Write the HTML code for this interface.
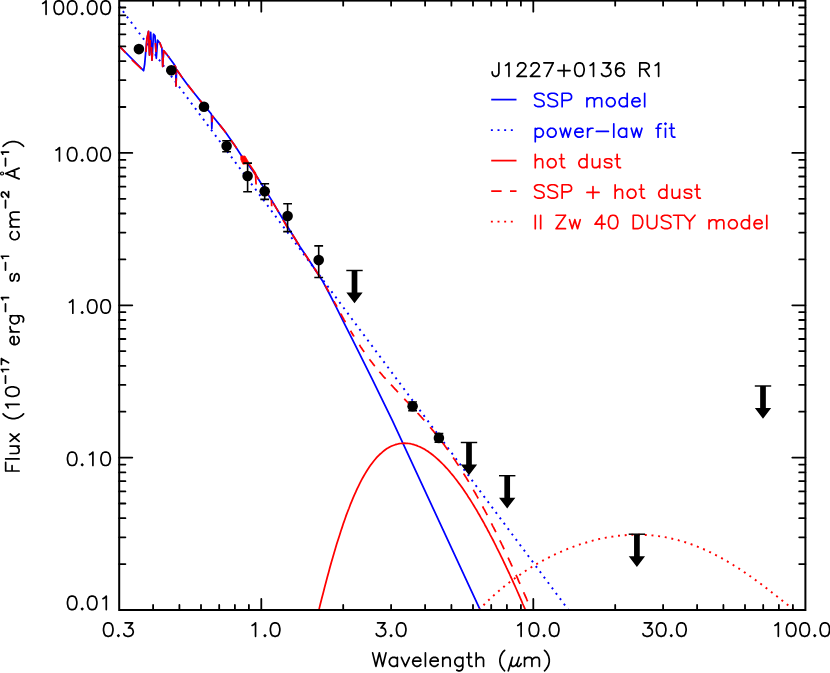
<!DOCTYPE html>
<html><head><meta charset="utf-8"><title>SED</title>
<style>html,body{margin:0;padding:0;background:#fff;font-family:"Liberation Sans",sans-serif}svg{display:block}</style>
</head><body>
<svg width="830" height="673" viewBox="0 0 830 673">
<rect width="830" height="673" fill="#fff"/>
<defs><clipPath id="pc"><rect x="119.2" y="0.6" width="686.2" height="610.0"/></clipPath></defs>
<g clip-path="url(#pc)">
<polyline points="119.2,46.0 143.6,70.7 144.7,64.0 145.7,52.0 146.9,39.0 148.5,31.4 149.5,55.0 150.7,32.3 152.0,60.2 153.5,34.2 155.0,35.8 156.3,58.3 157.6,40.2 160.0,43.3 161.9,48.3 162.7,66.4 163.6,50.6 168.2,56.2 173.7,63.7 175.7,67.2 176.0,86.0 176.6,69.4 182.0,77.2 187.3,84.4 193.9,92.8 200.4,100.9 210.5,113.0 211.5,114.5 211.8,128.5 212.3,115.8 219.5,124.6 225.0,131.5 234.8,145.6 241.3,155.4 248.5,165.0 255.2,174.0 261.8,184.5 270.8,198.9 278.9,212.5 290.4,231.3 300.0,246.7 311.0,263.2 322.2,280.4 329.0,293.0 336.1,306.9 344.5,323.8 353.5,341.7 372.3,379.4 392.3,420.4 480.3,610.1 560.0,782.0" fill="none" stroke="#0000ff" stroke-width="1.75" stroke-linejoin="round"/>
<line x1="119.4" y1="6.44" x2="568.3" y2="609.7" stroke="#0000ff" stroke-width="1.95" stroke-dasharray="1.95 4.765" stroke-dashoffset="0.82"/>
<polyline points="315.0,625.6 316.4,620.1 317.7,614.5 319.1,609.1 320.4,603.7 321.8,598.3 323.2,593.0 324.5,587.7 325.9,582.6 327.2,577.5 328.6,572.4 329.9,567.5 331.3,562.6 332.7,557.8 334.0,553.2 335.4,548.6 336.7,544.1 338.1,539.7 339.5,535.4 340.8,531.2 342.2,527.1 343.5,523.1 344.9,519.2 346.2,515.4 347.6,511.7 349.0,508.2 350.3,504.7 351.7,501.3 353.0,498.1 354.4,494.9 355.8,491.9 357.1,488.9 358.5,486.1 359.8,483.4 361.2,480.7 362.5,478.2 363.9,475.8 365.3,473.4 366.6,471.2 368.0,469.1 369.3,467.0 370.7,465.1 372.1,463.2 373.4,461.5 374.8,459.8 376.1,458.2 377.5,456.7 378.8,455.3 380.2,454.0 381.6,452.8 382.9,451.6 384.3,450.5 385.6,449.5 387.0,448.6 388.4,447.8 389.7,447.0 391.1,446.3 392.4,445.7 393.8,445.2 395.2,444.7 396.5,444.3 397.9,444.0 399.2,443.7 400.6,443.5 401.9,443.3 403.3,443.3 404.7,443.2 406.0,443.3 407.4,443.4 408.7,443.5 410.1,443.7 411.5,444.0 412.8,444.3 414.2,444.7 415.5,445.2 416.9,445.6 418.2,446.2 419.6,446.8 421.0,447.4 422.3,448.1 423.7,448.8 425.0,449.6 426.4,450.5 427.8,451.3 429.1,452.3 430.5,453.2 431.8,454.2 433.2,455.3 434.5,456.4 435.9,457.6 437.3,458.8 438.6,460.0 440.0,461.3 441.3,462.6 442.7,464.0 444.1,465.4 445.4,466.8 446.8,468.3 448.1,469.8 449.5,471.4 450.8,473.0 452.2,474.6 453.6,476.3 454.9,478.0 456.3,479.7 457.6,481.5 459.0,483.4 460.4,485.2 461.7,487.1 463.1,489.1 464.4,491.0 465.8,493.1 467.2,495.1 468.5,497.2 469.9,499.3 471.2,501.4 472.6,503.6 473.9,505.8 475.3,508.1 476.7,510.3 478.0,512.7 479.4,515.0 480.7,517.4 482.1,519.8 483.5,522.2 484.8,524.7 486.2,527.2 487.5,529.7 488.9,532.2 490.2,534.8 491.6,537.4 493.0,540.0 494.3,542.7 495.7,545.4 497.0,548.1 498.4,550.8 499.8,553.6 501.1,556.3 502.5,559.1 503.8,562.0 505.2,564.8 506.5,567.7 507.9,570.6 509.3,573.5 510.6,576.5 512.0,579.4 513.3,582.4 514.7,585.4 516.1,588.5 517.4,591.5 518.8,594.6 520.1,597.7 521.5,600.8 522.8,604.0 524.2,607.1 525.6,610.3 526.9,613.5 528.3,616.8 529.6,620.0 531.0,623.3" fill="none" stroke="#ff0000" stroke-width="1.75" stroke-linejoin="round"/>
<polyline points="119.2,46.0 125.7,52.8" fill="none" stroke="#ff0000" stroke-width="1.75" stroke-linejoin="round"/>
<polyline points="131.9,59.9 141.4,68.9" fill="none" stroke="#ff0000" stroke-width="1.75" stroke-linejoin="round"/>
<polyline points="146.0,52.0 146.9,39.0 148.5,31.4 149.5,55.0 150.2,40.0" fill="none" stroke="#ff0000" stroke-width="1.75" stroke-linejoin="round"/>
<polyline points="151.5,47.0 152.0,60.2 152.4,53.0" fill="none" stroke="#ff0000" stroke-width="1.75" stroke-linejoin="round"/>
<polyline points="155.4,43.0 156.0,52.0" fill="none" stroke="#ff0000" stroke-width="1.75" stroke-linejoin="round"/>
<polyline points="159.5,42.6 160.0,43.3 161.9,48.3" fill="none" stroke="#ff0000" stroke-width="1.75" stroke-linejoin="round"/>
<polyline points="162.6,58.0 162.7,66.4 163.6,50.6 167.1,54.8" fill="none" stroke="#ff0000" stroke-width="1.75" stroke-linejoin="round"/>
<polyline points="212.3,115.8 212.1,122.3" fill="none" stroke="#ff0000" stroke-width="1.75" stroke-linejoin="round"/>
<polyline points="168.2,56.2 173.7,63.7 175.7,67.2 176.0,86.0 176.6,69.4 182.0,77.2 187.3,84.4 193.9,92.8 200.4,100.9 210.5,113.0 211.5,114.5" fill="none" stroke="#ff0000" stroke-width="1.75" stroke-dasharray="9.90 9.15" stroke-dashoffset="8.11" stroke-linejoin="round"/>
<polyline points="212.3,115.8 219.5,124.6 225.0,131.5 234.8,145.6 241.3,155.4 248.5,165.0 255.2,174.0 261.8,184.5 270.8,198.9 278.9,212.5 289.5,231.3" fill="none" stroke="#ff0000" stroke-width="1.75" stroke-dasharray="9.90 9.15" stroke-dashoffset="7.38" stroke-linejoin="round"/>
<polyline points="292.4,234.5 299.1,245.3" fill="none" stroke="#ff0000" stroke-width="1.75"/>
<polyline points="304.3,253.2 309.5,260.9" fill="none" stroke="#ff0000" stroke-width="1.75"/>
<polyline points="314.0,267.8 319.9,276.9" fill="none" stroke="#ff0000" stroke-width="1.75"/>
<polyline points="325.1,285.4 328.8,291.7" fill="none" stroke="#ff0000" stroke-width="1.75"/>
<polyline points="334.0,301.3 334.3,301.8 334.8,302.8 335.3,303.8 335.9,304.7 336.4,305.7 336.9,306.7 337.0,306.8" fill="none" stroke="#ff0000" stroke-width="1.75"/>
<polyline points="340.5,313.3 340.6,313.5 341.2,314.5 341.7,315.5 342.2,316.4 342.7,317.4 343.3,318.3 343.8,319.3 344.3,320.2 344.9,321.1 345.4,322.1 345.5,322.2" fill="none" stroke="#ff0000" stroke-width="1.75"/>
<polyline points="350.5,330.7 350.7,331.0 351.2,331.9 351.7,332.8 352.3,333.7 352.8,334.5 353.3,335.4 353.9,336.2 354.0,336.5" fill="none" stroke="#ff0000" stroke-width="1.75"/>
<polyline points="359.4,344.9 359.7,345.3 360.2,346.1 360.7,346.9 361.3,347.7 361.8,348.5 362.3,349.3 362.8,350.0 363.4,350.8 363.9,351.6 364.1,351.9" fill="none" stroke="#ff0000" stroke-width="1.75"/>
<polyline points="369.5,359.3 369.7,359.6 370.2,360.3 370.8,361.0 371.3,361.6 371.8,362.3 372.4,363.0 372.9,363.7 373.4,364.4 373.9,365.0 374.5,365.7 374.8,366.1" fill="none" stroke="#ff0000" stroke-width="1.75"/>
<polyline points="379.4,371.7 379.8,372.2 380.3,372.8 380.8,373.4 381.4,374.0 381.9,374.6 382.4,375.3 382.9,375.9 383.5,376.5 384.0,377.1 384.5,377.6 385.1,378.2 385.6,378.8 385.6,378.8" fill="none" stroke="#ff0000" stroke-width="1.75"/>
<polyline points="391.0,384.7 391.4,385.1 391.9,385.6 392.5,386.2 393.0,386.8 393.5,387.4 394.0,387.9 394.6,388.5 395.1,389.1 395.6,389.7 396.2,390.2 396.7,390.8 397.2,391.4 397.7,391.9 398.0,392.2" fill="none" stroke="#ff0000" stroke-width="1.75"/>
<polyline points="404.2,398.8 404.6,399.2 405.2,399.8 405.7,400.3 406.2,400.9 406.7,401.4 407.3,402.0 407.8,402.5 408.3,403.1 408.9,403.7 409.4,404.2 409.5,404.3" fill="none" stroke="#ff0000" stroke-width="1.75"/>
<polyline points="417.6,413.0 417.8,413.3 418.4,413.8 418.9,414.4 419.4,415.0 420.0,415.6 420.5,416.2 421.0,416.7 421.5,417.3 422.1,417.9 422.6,418.5 423.1,419.1 423.7,419.7 424.2,420.3 424.7,420.9 425.2,421.5 425.8,422.1 426.3,422.7 426.8,423.3 427.4,423.9 427.9,424.5 428.4,425.2 428.9,425.8 429.5,426.4 430.0,427.0 430.5,427.7 431.1,428.3 431.6,428.9 432.1,429.6 432.6,430.2 433.2,430.8 433.7,431.5 434.2,432.1 434.8,432.8 435.3,433.4 435.8,434.1 436.4,434.8 436.9,435.4 437.4,436.1 437.9,436.8 438.5,437.4 439.0,438.1 439.5,438.8 440.1,439.5 440.6,440.2 441.1,440.8 441.6,441.5 442.2,442.2 442.7,442.9 443.2,443.6 443.8,444.3 444.3,445.1 444.8,445.8 445.3,446.5 445.9,447.2 446.4,447.9 446.9,448.7 447.5,449.4 448.0,450.1 448.5,450.9 449.0,451.6 449.6,452.4 450.1,453.1 450.6,453.9 451.2,454.6 451.7,455.4 452.2,456.1 452.7,456.9 453.3,457.7 453.8,458.5 454.3,459.2 454.9,460.0 455.4,460.8 455.9,461.6 456.4,462.4 457.0,463.2 457.5,464.0 458.0,464.8 458.6,465.6 459.1,466.4 459.6,467.2 460.1,468.1 460.7,468.9 461.2,469.7 461.7,470.5 462.3,471.4 462.8,472.2 463.3,473.1 463.8,473.9 464.4,474.8 464.9,475.6 465.4,476.5 466.0,477.3 466.5,478.2 467.0,479.1 467.6,480.0 468.1,480.8 468.6,481.7 469.1,482.6 469.7,483.5 470.2,484.4 470.7,485.3 471.3,486.2 471.8,487.1 472.3,488.0 472.8,488.9 473.4,489.8 473.9,490.8 474.4,491.7 475.0,492.6 475.5,493.5 476.0,494.5 476.5,495.4 477.1,496.4 477.6,497.3 478.1,498.3 478.7,499.2 479.2,500.2 479.7,501.1 480.2,502.1 480.8,503.1 481.3,504.0 481.8,505.0 482.4,506.0 482.9,507.0 483.4,508.0 483.9,508.9 484.5,509.9 485.0,510.9 485.5,511.9 486.1,512.9 486.6,513.9 487.1,515.0 487.6,516.0 488.2,517.0 488.7,518.0 489.2,519.0 489.8,520.1 490.3,521.1 490.8,522.1 491.3,523.2 491.9,524.2 492.4,525.3 492.9,526.3 493.5,527.4 494.0,528.4 494.5,529.5 495.1,530.5 495.6,531.6 496.1,532.7 496.6,533.7 497.2,534.8 497.7,535.9 498.2,537.0 498.8,538.0 499.3,539.1 499.8,540.2 500.3,541.3 500.9,542.4 501.4,543.5 501.9,544.6 502.5,545.7 503.0,546.8 503.5,547.9 504.0,549.0 504.6,550.1 505.1,551.3 505.6,552.4 506.2,553.5 506.7,554.6 507.2,555.8 507.7,556.9 508.3,558.0 508.8,559.2 509.3,560.3 509.9,561.4 510.4,562.6 510.9,563.7 511.4,564.9 512.0,566.0 512.5,567.2 513.0,568.4 513.6,569.5 514.1,570.7 514.6,571.9 515.1,573.0 515.7,574.2 516.2,575.4 516.7,576.5 517.3,577.7 517.8,578.9 518.3,580.1 518.8,581.3 519.4,582.5 519.9,583.7 520.4,584.9 521.0,586.1 521.5,587.3 522.0,588.5 522.5,589.7 523.1,590.9 523.6,592.1 524.1,593.3 524.7,594.6 525.2,595.8 525.7,597.0 526.3,598.2 526.8,599.5 527.3,600.7 527.8,602.0 528.4,603.2 528.9,604.4 529.4,605.7 530.0,606.9 530.5,714.2 531.0,715.3 531.5,716.3 532.1,717.4 532.6,718.5 533.1,719.5 533.7,720.6 534.2,721.7 534.7,722.7 535.2,723.8 535.8,724.9 536.3,725.9 536.8,727.0 537.4,728.0 537.9,729.1 538.4,730.1 538.9,731.2 539.5,732.2 540.0,733.3" fill="none" stroke="#ff0000" stroke-width="1.75" stroke-dasharray="9.90 9.15" stroke-dashoffset="0.00" stroke-linejoin="round"/>
<path d="M240.8,156.2 L245,156.0 L248.6,162.2 L248.6,163.7 L242.9,164.2 L240.8,159.6 Z" fill="#ff0000" stroke="#ff0000" stroke-width="0.8" stroke-linejoin="round"/>
<path d="M248.6,163.2 L255.4,173.2 L256.1,184.5 M271.4,200 L271.7,206.3" fill="none" stroke="#ff0000" stroke-width="1.75" stroke-linejoin="round"/>
<polyline points="479.5,609.3 481.1,607.7 482.7,606.1 484.2,604.5 485.8,602.9 487.4,601.3 489.0,599.8 490.6,598.3 492.2,596.9 493.7,595.4 495.3,594.0 496.9,592.6 498.5,591.2 500.1,589.9 501.7,588.6 503.2,587.2 504.8,586.0 506.4,584.7 508.0,583.4 509.6,582.2 511.2,581.0 512.7,579.8 514.3,578.7 515.9,577.5 517.5,576.4 519.1,575.3 520.7,574.2 522.2,573.1 523.8,572.0 525.4,571.0 527.0,570.0 528.6,569.0 530.2,568.0 531.7,567.0 533.3,566.0 534.9,565.1 536.5,564.2 538.1,563.2 539.7,562.4 541.2,561.5 542.8,560.6 544.4,559.8 546.0,558.9 547.6,558.1 549.1,557.3 550.7,556.5 552.3,555.7 553.9,555.0 555.5,554.2 557.1,553.5 558.6,552.8 560.2,552.1 561.8,551.4 563.4,550.7 565.0,550.0 566.6,549.4 568.1,548.7 569.7,548.1 571.3,547.5 572.9,546.9 574.5,546.3 576.1,545.8 577.6,545.2 579.2,544.7 580.8,544.1 582.4,543.6 584.0,543.1 585.6,542.7 587.1,542.2 588.7,541.7 590.3,541.3 591.9,540.9 593.5,540.4 595.1,540.0 596.6,539.7 598.2,539.3 599.8,538.9 601.4,538.6 603.0,538.3 604.6,537.9 606.1,537.6 607.7,537.3 609.3,537.1 610.9,536.8 612.5,536.6 614.0,536.3 615.6,536.1 617.2,535.9 618.8,535.7 620.4,535.6 622.0,535.4 623.5,535.3 625.1,535.2 626.7,535.0 628.3,534.9 629.9,534.9 631.5,534.8 633.0,534.8 634.6,534.7 636.2,534.7 637.8,534.7 639.4,534.7 641.0,534.7 642.5,534.8 644.1,534.9 645.7,534.9 647.3,535.0 648.9,535.1 650.5,535.3 652.0,535.4 653.6,535.6 655.2,535.7 656.8,535.9 658.4,536.1 660.0,536.4 661.5,536.6 663.1,536.9 664.7,537.1 666.3,537.4 667.9,537.7 669.4,538.1 671.0,538.4 672.6,538.8 674.2,539.1 675.8,539.5 677.4,539.9 678.9,540.4 680.5,540.8 682.1,541.3 683.7,541.7 685.3,542.2 686.9,542.7 688.4,543.3 690.0,543.8 691.6,544.4 693.2,545.0 694.8,545.5 696.4,546.2 697.9,546.8 699.5,547.4 701.1,548.1 702.7,548.8 704.3,549.5 705.9,550.2 707.4,550.9 709.0,551.7 710.6,552.4 712.2,553.2 713.8,554.0 715.4,554.8 716.9,555.6 718.5,556.4 720.1,557.3 721.7,558.2 723.3,559.1 724.9,560.0 726.4,560.9 728.0,561.8 729.6,562.7 731.2,563.7 732.8,564.7 734.3,565.7 735.9,566.7 737.5,567.7 739.1,568.7 740.7,569.7 742.3,570.8 743.8,571.9 745.4,572.9 747.0,574.0 748.6,575.1 750.2,576.2 751.8,577.4 753.3,578.5 754.9,579.6 756.5,580.8 758.1,581.9 759.7,583.1 761.3,584.3 762.8,585.5 764.4,586.7 766.0,587.9 767.6,589.1 769.2,590.3 770.8,591.5 772.3,592.8 773.9,594.0 775.5,595.2 777.1,596.5 778.7,597.7 780.3,599.0 781.8,600.2 783.4,601.5 785.0,602.8 786.6,604.0 788.2,605.3 789.8,606.5 791.3,607.8 792.9,609.1 794.5,610.3" fill="none" stroke="#ff0000" stroke-width="1.95" stroke-dasharray="1.95 4.755" stroke-dashoffset="1.0"/>
</g>
<circle cx="138.9" cy="49.1" r="5.3" fill="#000"/>
<circle cx="171.3" cy="70.2" r="5.3" fill="#000"/>
<circle cx="204.0" cy="106.7" r="5.3" fill="#000"/>
<path d="M226.6,140.8 V151.7 M222.2,140.8 h8.8 M222.2,151.7 h8.8" stroke="#000" stroke-width="1.60" fill="none"/>
<circle cx="226.6" cy="146.0" r="5.3" fill="#000"/>
<path d="M247.6,163.1 V191.7 M243.2,163.1 h8.8 M243.2,191.7 h8.8" stroke="#000" stroke-width="1.60" fill="none"/>
<circle cx="247.6" cy="176.0" r="5.3" fill="#000"/>
<path d="M264.7,183.8 V199.4 M260.3,183.8 h8.8 M260.3,199.4 h8.8" stroke="#000" stroke-width="1.60" fill="none"/>
<circle cx="264.7" cy="191.2" r="5.3" fill="#000"/>
<path d="M287.6,203.8 V231.6 M283.2,203.8 h8.8 M283.2,231.6 h8.8" stroke="#000" stroke-width="1.60" fill="none"/>
<circle cx="287.6" cy="216.0" r="5.3" fill="#000"/>
<path d="M318.7,245.9 V277.5 M314.3,245.9 h8.8 M314.3,277.5 h8.8" stroke="#000" stroke-width="1.60" fill="none"/>
<circle cx="318.7" cy="260.1" r="5.3" fill="#000"/>
<path d="M412.6,401.9 V410.7 M408.2,401.9 h8.8 M408.2,410.7 h8.8" stroke="#000" stroke-width="1.35" fill="none"/>
<circle cx="412.6" cy="406.3" r="5.3" fill="#000"/>
<path d="M438.9,433.4 V442.2 M434.5,433.4 h8.8 M434.5,442.2 h8.8" stroke="#000" stroke-width="1.35" fill="none"/>
<circle cx="438.9" cy="437.9" r="5.3" fill="#000"/>
<path d="M346.3,270.5 h16.4" stroke="#000" stroke-width="1.45"/>
<path d="M351.65,270.5 h5.7 v22.1 h5.3 l-8.15,10.6 l-8.15,-10.6 h5.3 z" fill="#000"/>
<path d="M460.8,442.5 h16.4" stroke="#000" stroke-width="1.45"/>
<path d="M466.15,442.5 h5.7 v22.1 h5.3 l-8.15,10.6 l-8.15,-10.6 h5.3 z" fill="#000"/>
<path d="M499.0,475.7 h16.4" stroke="#000" stroke-width="1.45"/>
<path d="M504.35,475.7 h5.7 v22.1 h5.3 l-8.15,10.6 l-8.15,-10.6 h5.3 z" fill="#000"/>
<path d="M628.7,534.2 h16.4" stroke="#000" stroke-width="1.45"/>
<path d="M634.05,534.2 h5.7 v22.1 h5.3 l-8.15,10.6 l-8.15,-10.6 h5.3 z" fill="#000"/>
<path d="M754.8,386.0 h16.4" stroke="#000" stroke-width="1.45"/>
<path d="M760.15,386.0 h5.7 v22.1 h5.3 l-8.15,10.6 l-8.15,-10.6 h5.3 z" fill="#000"/>
<rect x="119.2" y="0.6" width="686.2" height="609.4" fill="none" stroke="#000" stroke-width="2"/>
<path d="M153.1,610.0 v-5.1 M153.1,0.6 v5.1 M179.4,610.0 v-5.1 M179.4,0.6 v5.1 M201.0,610.0 v-5.1 M201.0,0.6 v5.1 M219.2,610.0 v-5.1 M219.2,0.6 v5.1 M234.9,610.0 v-5.1 M234.9,0.6 v5.1 M248.9,610.0 v-5.1 M248.9,0.6 v5.1 M261.3,610.0 v-11.1 M261.3,0.6 v11.1 M343.2,610.0 v-5.1 M343.2,0.6 v5.1 M391.1,610.0 v-5.1 M391.1,0.6 v5.1 M425.1,610.0 v-5.1 M425.1,0.6 v5.1 M451.4,610.0 v-5.1 M451.4,0.6 v5.1 M473.0,610.0 v-5.1 M473.0,0.6 v5.1 M491.2,610.0 v-5.1 M491.2,0.6 v5.1 M506.9,610.0 v-5.1 M506.9,0.6 v5.1 M520.9,610.0 v-5.1 M520.9,0.6 v5.1 M533.3,610.0 v-11.1 M533.3,0.6 v11.1 M615.2,610.0 v-5.1 M615.2,0.6 v5.1 M663.1,610.0 v-5.1 M663.1,0.6 v5.1 M697.1,610.0 v-5.1 M697.1,0.6 v5.1 M723.4,610.0 v-5.1 M723.4,0.6 v5.1 M745.0,610.0 v-5.1 M745.0,0.6 v5.1 M763.2,610.0 v-5.1 M763.2,0.6 v5.1 M778.9,610.0 v-5.1 M778.9,0.6 v5.1 M792.9,610.0 v-5.1 M792.9,0.6 v5.1 M119.2,564.1 h6.2 M805.4,564.1 h-6.2 M119.2,537.3 h6.2 M805.4,537.3 h-6.2 M119.2,518.2 h6.2 M805.4,518.2 h-6.2 M119.2,503.5 h6.2 M805.4,503.5 h-6.2 M119.2,491.4 h6.2 M805.4,491.4 h-6.2 M119.2,481.2 h6.2 M805.4,481.2 h-6.2 M119.2,472.4 h6.2 M805.4,472.4 h-6.2 M119.2,464.6 h6.2 M805.4,464.6 h-6.2 M119.2,457.6 h13.1 M805.4,457.6 h-13.1 M119.2,411.7 h6.2 M805.4,411.7 h-6.2 M119.2,384.9 h6.2 M805.4,384.9 h-6.2 M119.2,365.9 h6.2 M805.4,365.9 h-6.2 M119.2,351.1 h6.2 M805.4,351.1 h-6.2 M119.2,339.0 h6.2 M805.4,339.0 h-6.2 M119.2,328.8 h6.2 M805.4,328.8 h-6.2 M119.2,320.0 h6.2 M805.4,320.0 h-6.2 M119.2,312.2 h6.2 M805.4,312.2 h-6.2 M119.2,305.3 h13.1 M805.4,305.3 h-13.1 M119.2,259.4 h6.2 M805.4,259.4 h-6.2 M119.2,232.6 h6.2 M805.4,232.6 h-6.2 M119.2,213.5 h6.2 M805.4,213.5 h-6.2 M119.2,198.8 h6.2 M805.4,198.8 h-6.2 M119.2,186.7 h6.2 M805.4,186.7 h-6.2 M119.2,176.5 h6.2 M805.4,176.5 h-6.2 M119.2,167.7 h6.2 M805.4,167.7 h-6.2 M119.2,159.9 h6.2 M805.4,159.9 h-6.2 M119.2,152.9 h13.1 M805.4,152.9 h-13.1 M119.2,107.0 h6.2 M805.4,107.0 h-6.2 M119.2,80.2 h6.2 M805.4,80.2 h-6.2 M119.2,61.2 h6.2 M805.4,61.2 h-6.2 M119.2,46.4 h6.2 M805.4,46.4 h-6.2 M119.2,34.3 h6.2 M805.4,34.3 h-6.2 M119.2,24.1 h6.2 M805.4,24.1 h-6.2 M119.2,15.3 h6.2 M805.4,15.3 h-6.2 M119.2,7.5 h6.2 M805.4,7.5 h-6.2" stroke="#000" stroke-width="1.8" fill="none" stroke-linecap="round"/>
<path d="M107.58,622.86 L105.55,623.50 L104.20,625.42 L103.53,628.62 L103.53,630.54 L104.20,633.74 L105.55,635.66 L107.58,636.30 L108.92,636.30 L110.95,635.66 L112.30,633.74 L112.97,630.54 L112.97,628.62 L112.30,625.42 L110.95,623.50 L108.92,622.86 L107.58,622.86 M118.38,635.02 L117.70,635.66 L118.38,636.30 L119.05,635.66 L118.38,635.02 M125.12,622.86 L132.55,622.86 L128.50,627.98 L130.53,627.98 L131.88,628.62 L132.55,629.26 L133.22,631.18 L133.22,632.46 L132.55,634.38 L131.20,635.66 L129.18,636.30 L127.15,636.30 L125.12,635.66 L124.45,635.02 L123.78,633.74" fill="none" stroke="#000" stroke-width="1.70" stroke-linecap="round" stroke-linejoin="round"/>
<path d="M252.15,625.42 L253.50,624.78 L255.53,622.86 L255.53,636.30 M264.98,635.02 L264.30,635.66 L264.98,636.30 L265.65,635.66 L264.98,635.02 M274.43,622.86 L272.40,623.50 L271.05,625.42 L270.38,628.62 L270.38,630.54 L271.05,633.74 L272.40,635.66 L274.43,636.30 L275.78,636.30 L277.80,635.66 L279.15,633.74 L279.83,630.54 L279.83,628.62 L279.15,625.42 L277.80,623.50 L275.78,622.86 L274.43,622.86" fill="none" stroke="#000" stroke-width="1.70" stroke-linecap="round" stroke-linejoin="round"/>
<path d="M377.57,622.86 L385.00,622.86 L380.95,627.98 L382.97,627.98 L384.32,628.62 L385.00,629.26 L385.68,631.18 L385.68,632.46 L385.00,634.38 L383.65,635.66 L381.62,636.30 L379.60,636.30 L377.57,635.66 L376.90,635.02 L376.22,633.74 M391.07,635.02 L390.40,635.66 L391.07,636.30 L391.75,635.66 L391.07,635.02 M400.52,622.86 L398.50,623.50 L397.15,625.42 L396.47,628.62 L396.47,630.54 L397.15,633.74 L398.50,635.66 L400.52,636.30 L401.88,636.30 L403.90,635.66 L405.25,633.74 L405.93,630.54 L405.93,628.62 L405.25,625.42 L403.90,623.50 L401.88,622.86 L400.52,622.86" fill="none" stroke="#000" stroke-width="1.70" stroke-linecap="round" stroke-linejoin="round"/>
<path d="M517.75,625.42 L519.10,624.78 L521.12,622.86 L521.12,636.30 M533.28,622.86 L531.25,623.50 L529.90,625.42 L529.23,628.62 L529.23,630.54 L529.90,633.74 L531.25,635.66 L533.28,636.30 L534.62,636.30 L536.65,635.66 L538.00,633.74 L538.68,630.54 L538.68,628.62 L538.00,625.42 L536.65,623.50 L534.62,622.86 L533.28,622.86 M544.08,635.02 L543.40,635.66 L544.08,636.30 L544.75,635.66 L544.08,635.02 M553.53,622.86 L551.50,623.50 L550.15,625.42 L549.48,628.62 L549.48,630.54 L550.15,633.74 L551.50,635.66 L553.53,636.30 L554.88,636.30 L556.90,635.66 L558.25,633.74 L558.93,630.54 L558.93,628.62 L558.25,625.42 L556.90,623.50 L554.88,622.86 L553.53,622.86" fill="none" stroke="#000" stroke-width="1.70" stroke-linecap="round" stroke-linejoin="round"/>
<path d="M644.27,622.86 L651.70,622.86 L647.65,627.98 L649.67,627.98 L651.02,628.62 L651.70,629.26 L652.38,631.18 L652.38,632.46 L651.70,634.38 L650.35,635.66 L648.32,636.30 L646.30,636.30 L644.27,635.66 L643.60,635.02 L642.92,633.74 M660.48,622.86 L658.45,623.50 L657.10,625.42 L656.42,628.62 L656.42,630.54 L657.10,633.74 L658.45,635.66 L660.48,636.30 L661.82,636.30 L663.85,635.66 L665.20,633.74 L665.88,630.54 L665.88,628.62 L665.20,625.42 L663.85,623.50 L661.82,622.86 L660.48,622.86 M671.27,635.02 L670.60,635.66 L671.27,636.30 L671.95,635.66 L671.27,635.02 M680.73,622.86 L678.70,623.50 L677.35,625.42 L676.67,628.62 L676.67,630.54 L677.35,633.74 L678.70,635.66 L680.73,636.30 L682.07,636.30 L684.10,635.66 L685.45,633.74 L686.12,630.54 L686.12,628.62 L685.45,625.42 L684.10,623.50 L682.07,622.86 L680.73,622.86" fill="none" stroke="#000" stroke-width="1.70" stroke-linecap="round" stroke-linejoin="round"/>
<path d="M774.95,625.42 L776.30,624.78 L778.32,622.86 L778.32,636.30 M790.48,622.86 L788.45,623.50 L787.10,625.42 L786.42,628.62 L786.42,630.54 L787.10,633.74 L788.45,635.66 L790.48,636.30 L791.82,636.30 L793.85,635.66 L795.20,633.74 L795.88,630.54 L795.88,628.62 L795.20,625.42 L793.85,623.50 L791.82,622.86 L790.48,622.86 M803.98,622.86 L801.95,623.50 L800.60,625.42 L799.92,628.62 L799.92,630.54 L800.60,633.74 L801.95,635.66 L803.98,636.30 L805.32,636.30 L807.35,635.66 L808.70,633.74 L809.38,630.54 L809.38,628.62 L808.70,625.42 L807.35,623.50 L805.32,622.86 L803.98,622.86 M814.77,635.02 L814.10,635.66 L814.77,636.30 L815.45,635.66 L814.77,635.02 M824.23,622.86 L822.20,623.50 L820.85,625.42 L820.17,628.62 L820.17,630.54 L820.85,633.74 L822.20,635.66 L824.23,636.30 L825.57,636.30 L827.60,635.66 L828.95,633.74 L829.62,630.54 L829.62,628.62 L828.95,625.42 L827.60,623.50 L825.57,622.86 L824.23,622.86" fill="none" stroke="#000" stroke-width="1.70" stroke-linecap="round" stroke-linejoin="round"/>
<path d="M42.72,3.42 L44.06,2.78 L46.07,0.86 L46.07,14.30 M58.11,0.86 L56.10,1.50 L54.77,3.42 L54.10,6.62 L54.10,8.54 L54.77,11.74 L56.10,13.66 L58.11,14.30 L59.45,14.30 L61.46,13.66 L62.79,11.74 L63.46,8.54 L63.46,6.62 L62.79,3.42 L61.46,1.50 L59.45,0.86 L58.11,0.86 M71.49,0.86 L69.48,1.50 L68.15,3.42 L67.48,6.62 L67.48,8.54 L68.15,11.74 L69.48,13.66 L71.49,14.30 L72.83,14.30 L74.84,13.66 L76.17,11.74 L76.84,8.54 L76.84,6.62 L76.17,3.42 L74.84,1.50 L72.83,0.86 L71.49,0.86 M82.19,13.02 L81.53,13.66 L82.19,14.30 L82.86,13.66 L82.19,13.02 M91.56,0.86 L89.55,1.50 L88.22,3.42 L87.55,6.62 L87.55,8.54 L88.22,11.74 L89.55,13.66 L91.56,14.30 L92.90,14.30 L94.91,13.66 L96.24,11.74 L96.91,8.54 L96.91,6.62 L96.24,3.42 L94.91,1.50 L92.90,0.86 L91.56,0.86 M104.94,0.86 L102.93,1.50 L101.60,3.42 L100.93,6.62 L100.93,8.54 L101.60,11.74 L102.93,13.66 L104.94,14.30 L106.28,14.30 L108.29,13.66 L109.62,11.74 L110.29,8.54 L110.29,6.62 L109.62,3.42 L108.29,1.50 L106.28,0.86 L104.94,0.86" fill="none" stroke="#000" stroke-width="1.70" stroke-linecap="round" stroke-linejoin="round"/>
<path d="M56.10,150.12 L57.44,149.48 L59.45,147.56 L59.45,161.00 M71.49,147.56 L69.48,148.20 L68.15,150.12 L67.48,153.32 L67.48,155.24 L68.15,158.44 L69.48,160.36 L71.49,161.00 L72.83,161.00 L74.84,160.36 L76.17,158.44 L76.84,155.24 L76.84,153.32 L76.17,150.12 L74.84,148.20 L72.83,147.56 L71.49,147.56 M82.19,159.72 L81.53,160.36 L82.19,161.00 L82.86,160.36 L82.19,159.72 M91.56,147.56 L89.55,148.20 L88.22,150.12 L87.55,153.32 L87.55,155.24 L88.22,158.44 L89.55,160.36 L91.56,161.00 L92.90,161.00 L94.91,160.36 L96.24,158.44 L96.91,155.24 L96.91,153.32 L96.24,150.12 L94.91,148.20 L92.90,147.56 L91.56,147.56 M104.94,147.56 L102.93,148.20 L101.60,150.12 L100.93,153.32 L100.93,155.24 L101.60,158.44 L102.93,160.36 L104.94,161.00 L106.28,161.00 L108.29,160.36 L109.62,158.44 L110.29,155.24 L110.29,153.32 L109.62,150.12 L108.29,148.20 L106.28,147.56 L104.94,147.56" fill="none" stroke="#000" stroke-width="1.70" stroke-linecap="round" stroke-linejoin="round"/>
<path d="M69.48,302.32 L70.82,301.68 L72.83,299.76 L72.83,313.20 M82.19,311.92 L81.53,312.56 L82.19,313.20 L82.86,312.56 L82.19,311.92 M91.56,299.76 L89.55,300.40 L88.22,302.32 L87.55,305.52 L87.55,307.44 L88.22,310.64 L89.55,312.56 L91.56,313.20 L92.90,313.20 L94.91,312.56 L96.24,310.64 L96.91,307.44 L96.91,305.52 L96.24,302.32 L94.91,300.40 L92.90,299.76 L91.56,299.76 M104.94,299.76 L102.93,300.40 L101.60,302.32 L100.93,305.52 L100.93,307.44 L101.60,310.64 L102.93,312.56 L104.94,313.20 L106.28,313.20 L108.29,312.56 L109.62,310.64 L110.29,307.44 L110.29,305.52 L109.62,302.32 L108.29,300.40 L106.28,299.76 L104.94,299.76" fill="none" stroke="#000" stroke-width="1.70" stroke-linecap="round" stroke-linejoin="round"/>
<path d="M71.49,452.06 L69.48,452.70 L68.15,454.62 L67.48,457.82 L67.48,459.74 L68.15,462.94 L69.48,464.86 L71.49,465.50 L72.83,465.50 L74.84,464.86 L76.17,462.94 L76.84,459.74 L76.84,457.82 L76.17,454.62 L74.84,452.70 L72.83,452.06 L71.49,452.06 M82.19,464.22 L81.53,464.86 L82.19,465.50 L82.86,464.86 L82.19,464.22 M89.55,454.62 L90.89,453.98 L92.90,452.06 L92.90,465.50 M104.94,452.06 L102.93,452.70 L101.60,454.62 L100.93,457.82 L100.93,459.74 L101.60,462.94 L102.93,464.86 L104.94,465.50 L106.28,465.50 L108.29,464.86 L109.62,462.94 L110.29,459.74 L110.29,457.82 L109.62,454.62 L108.29,452.70 L106.28,452.06 L104.94,452.06" fill="none" stroke="#000" stroke-width="1.70" stroke-linecap="round" stroke-linejoin="round"/>
<path d="M71.49,596.16 L69.48,596.80 L68.15,598.72 L67.48,601.92 L67.48,603.84 L68.15,607.04 L69.48,608.96 L71.49,609.60 L72.83,609.60 L74.84,608.96 L76.17,607.04 L76.84,603.84 L76.84,601.92 L76.17,598.72 L74.84,596.80 L72.83,596.16 L71.49,596.16 M82.19,608.32 L81.53,608.96 L82.19,609.60 L82.86,608.96 L82.19,608.32 M91.56,596.16 L89.55,596.80 L88.22,598.72 L87.55,601.92 L87.55,603.84 L88.22,607.04 L89.55,608.96 L91.56,609.60 L92.90,609.60 L94.91,608.96 L96.24,607.04 L96.91,603.84 L96.91,601.92 L96.24,598.72 L94.91,596.80 L92.90,596.16 L91.56,596.16 M102.93,598.72 L104.27,598.08 L106.28,596.16 L106.28,609.60" fill="none" stroke="#000" stroke-width="1.70" stroke-linecap="round" stroke-linejoin="round"/>
<path d="M372.64,652.86 L375.98,666.30 M379.32,652.86 L375.98,666.30 M379.32,652.86 L382.66,666.30 M386.00,652.86 L382.66,666.30 M397.35,657.34 L397.35,666.30 M397.35,659.26 L396.02,657.98 L394.68,657.34 L392.68,657.34 L391.34,657.98 L390.00,659.26 L389.34,661.18 L389.34,662.46 L390.00,664.38 L391.34,665.66 L392.68,666.30 L394.68,666.30 L396.02,665.66 L397.35,664.38 M401.36,657.34 L405.37,666.30 M409.38,657.34 L405.37,666.30 M412.72,661.18 L420.73,661.18 L420.73,659.90 L420.06,658.62 L419.40,657.98 L418.06,657.34 L416.06,657.34 L414.72,657.98 L413.38,659.26 L412.72,661.18 L412.72,662.46 L413.38,664.38 L414.72,665.66 L416.06,666.30 L418.06,666.30 L419.40,665.66 L420.73,664.38 M425.41,652.86 L425.41,666.30 M430.08,661.18 L438.10,661.18 L438.10,659.90 L437.43,658.62 L436.76,657.98 L435.43,657.34 L433.42,657.34 L432.09,657.98 L430.75,659.26 L430.08,661.18 L430.08,662.46 L430.75,664.38 L432.09,665.66 L433.42,666.30 L435.43,666.30 L436.76,665.66 L438.10,664.38 M442.78,657.34 L442.78,666.30 M442.78,659.90 L444.78,657.98 L446.12,657.34 L448.12,657.34 L449.46,657.98 L450.12,659.90 L450.12,666.30 M462.82,657.34 L462.82,667.58 L462.15,669.50 L461.48,670.14 L460.14,670.78 L458.14,670.78 L456.80,670.14 M462.82,659.26 L461.48,657.98 L460.14,657.34 L458.14,657.34 L456.80,657.98 L455.47,659.26 L454.80,661.18 L454.80,662.46 L455.47,664.38 L456.80,665.66 L458.14,666.30 L460.14,666.30 L461.48,665.66 L462.82,664.38 M468.83,652.86 L468.83,663.74 L469.50,665.66 L470.83,666.30 L472.17,666.30 M466.82,657.34 L471.50,657.34 M476.18,652.86 L476.18,666.30 M476.18,659.90 L478.18,657.98 L479.52,657.34 L481.52,657.34 L482.86,657.98 L483.52,659.90 L483.52,666.30" fill="none" stroke="#000" stroke-width="1.70" stroke-linecap="round" stroke-linejoin="round"/>
<path d="M504.63,650.30 L503.28,651.58 L501.93,653.50 L500.58,656.06 L499.90,659.26 L499.90,661.82 L500.58,665.02 L501.93,667.58 L503.28,669.50 L504.63,670.78" fill="none" stroke="#000" stroke-width="1.70" stroke-linecap="round" stroke-linejoin="round"/>
<path d="M512.38,657.34 L508.33,670.78 M511.70,659.90 L511.03,663.10 L511.03,665.02 L512.38,666.30 L513.73,666.30 L515.08,665.66 L516.43,664.38 L517.78,661.82 M519.12,657.34 L517.78,661.82 L517.10,664.38 L517.10,665.66 L517.78,666.30 L519.12,666.30 L520.48,665.02 L521.15,663.74" fill="none" stroke="#000" stroke-width="1.70" stroke-linecap="round" stroke-linejoin="round"/>
<path d="M524.53,657.34 L524.53,666.30 M524.53,659.90 L526.55,657.98 L527.90,657.34 L529.93,657.34 L531.28,657.98 L531.95,659.90 L531.95,666.30 M531.95,659.90 L533.98,657.98 L535.33,657.34 L537.35,657.34 L538.70,657.98 L539.38,659.90 L539.38,666.30" fill="none" stroke="#000" stroke-width="1.70" stroke-linecap="round" stroke-linejoin="round"/>
<path d="M544.50,650.30 L545.85,651.58 L547.20,653.50 L548.55,656.06 L549.23,659.26 L549.23,661.82 L548.55,665.02 L547.20,667.58 L545.85,669.50 L544.50,670.78" fill="none" stroke="#000" stroke-width="1.70" stroke-linecap="round" stroke-linejoin="round"/>
<g transform="translate(19.10,473.68) rotate(-90)" fill="none" stroke="#000" stroke-width="1.70" stroke-linecap="round" stroke-linejoin="round"><path d="M2.69,-13.44 L2.69,0.00 M2.69,-13.44 L11.43,-13.44 M2.69,-7.04 L8.07,-7.04 M14.79,-13.44 L14.79,0.00 M20.17,-8.96 L20.17,-2.56 L20.84,-0.64 L22.19,0.00 L24.20,0.00 L25.55,-0.64 L27.56,-2.56 M27.56,-8.96 L27.56,0.00 M32.27,-8.96 L39.67,0.00 M39.67,-8.96 L32.27,0.00 M59.83,-16.00 L58.49,-14.72 L57.15,-12.80 L55.80,-10.24 L55.13,-7.04 L55.13,-4.48 L55.80,-1.28 L57.15,1.28 L58.49,3.20 L59.83,4.48 M65.89,-10.88 L67.23,-11.52 L69.25,-13.44 L69.25,0.00 M81.35,-13.44 L79.33,-12.80 L77.99,-10.88 L77.31,-7.68 L77.31,-5.76 L77.99,-2.56 L79.33,-0.64 L81.35,0.00 L82.69,0.00 L84.71,-0.64 L86.05,-2.56 L86.73,-5.76 L86.73,-7.68 L86.05,-10.88 L84.71,-12.80 L82.69,-13.44 L81.35,-13.44 M90.41,-13.60 L97.91,-13.60 M102.08,-16.32 L102.92,-16.66 L104.17,-17.67 L104.17,-10.55 M115.00,-17.67 L110.84,-10.55 M109.17,-17.67 L115.00,-17.67 M129.03,-5.12 L137.10,-5.12 L137.10,-6.40 L136.42,-7.68 L135.75,-8.32 L134.41,-8.96 L132.39,-8.96 L131.04,-8.32 L129.70,-7.04 L129.03,-5.12 L129.03,-3.84 L129.70,-1.92 L131.04,-0.64 L132.39,0.00 L134.41,0.00 L135.75,-0.64 L137.10,-1.92 M141.80,-8.96 L141.80,0.00 M141.80,-5.12 L142.47,-7.04 L143.82,-8.32 L145.16,-8.96 L147.18,-8.96 M157.94,-8.96 L157.94,1.28 L157.26,3.20 L156.59,3.84 L155.25,4.48 L153.23,4.48 L151.89,3.84 M157.94,-7.04 L156.59,-8.32 L155.25,-8.96 L153.23,-8.96 L151.89,-8.32 L150.54,-7.04 L149.87,-5.12 L149.87,-3.84 L150.54,-1.92 L151.89,-0.64 L153.23,0.00 L155.25,0.00 L156.59,-0.64 L157.94,-1.92 M162.29,-13.60 L169.80,-13.60 M173.96,-16.32 L174.80,-16.66 L176.05,-17.67 L176.05,-10.55 M199.97,-7.04 L199.30,-8.32 L197.28,-8.96 L195.26,-8.96 L193.25,-8.32 L192.57,-7.04 L193.25,-5.76 L194.59,-5.12 L197.95,-4.48 L199.30,-3.84 L199.97,-2.56 L199.97,-1.92 L199.30,-0.64 L197.28,0.00 L195.26,0.00 L193.25,-0.64 L192.57,-1.92 M203.65,-13.60 L211.16,-13.60 M215.32,-16.32 L216.16,-16.66 L217.41,-17.67 L217.41,-10.55 M242.00,-7.04 L240.66,-8.32 L239.31,-8.96 L237.30,-8.96 L235.95,-8.32 L234.61,-7.04 L233.93,-5.12 L233.93,-3.84 L234.61,-1.92 L235.95,-0.64 L237.30,0.00 L239.31,0.00 L240.66,-0.64 L242.00,-1.92 M246.71,-8.96 L246.71,0.00 M246.71,-6.40 L248.72,-8.32 L250.07,-8.96 L252.09,-8.96 L253.43,-8.32 L254.10,-6.40 L254.10,0.00 M254.10,-6.40 L256.12,-8.32 L257.46,-8.96 L259.48,-8.96 L260.83,-8.32 L261.50,-6.40 L261.50,0.00 M265.85,-13.60 L273.36,-13.60 M276.69,-15.98 L276.69,-16.32 L277.11,-16.99 L277.53,-17.33 L278.36,-17.67 L280.03,-17.67 L280.86,-17.33 L281.28,-16.99 L281.69,-16.32 L281.69,-15.64 L281.28,-14.96 L280.44,-13.94 L276.27,-10.55 L282.11,-10.55 M300.17,-13.44 L294.79,0.00 M300.17,-13.44 L305.55,0.00 M296.81,-4.48 L303.53,-4.48 M307.89,-13.60 L315.39,-13.60 M319.56,-16.32 L320.39,-16.66 L321.64,-17.67 L321.64,-10.55 M327.41,-16.00 L328.75,-14.72 L330.10,-12.80 L331.44,-10.24 L332.12,-7.04 L332.12,-4.48 L331.44,-1.28 L330.10,1.28 L328.75,3.20 L327.41,4.48"/><circle cx="300.17" cy="-17.04" r="1.5" stroke-width="1.2"/></g>
<path d="M498.90,62.86 L498.90,73.10 L498.23,75.02 L497.56,75.66 L496.22,76.30 L494.88,76.30 L493.53,75.66 L492.86,75.02 L492.19,73.10 L492.19,71.82 M505.61,65.42 L506.95,64.78 L508.97,62.86 L508.97,76.30 M517.69,66.06 L517.69,65.42 L518.36,64.14 L519.03,63.50 L520.37,62.86 L523.06,62.86 L524.40,63.50 L525.07,64.14 L525.74,65.42 L525.74,66.70 L525.07,67.98 L523.73,69.90 L517.02,76.30 L526.41,76.30 M531.11,66.06 L531.11,65.42 L531.78,64.14 L532.45,63.50 L533.79,62.86 L536.48,62.86 L537.82,63.50 L538.49,64.14 L539.16,65.42 L539.16,66.70 L538.49,67.98 L537.15,69.90 L530.44,76.30 L539.83,76.30 M553.25,62.86 L546.54,76.30 M543.86,62.86 L553.25,62.86 M563.99,64.78 L563.99,76.30 M557.95,70.54 L570.03,70.54 M578.75,62.86 L576.74,63.50 L575.40,65.42 L574.72,68.62 L574.72,70.54 L575.40,73.74 L576.74,75.66 L578.75,76.30 L580.09,76.30 L582.11,75.66 L583.45,73.74 L584.12,70.54 L584.12,68.62 L583.45,65.42 L582.11,63.50 L580.09,62.86 L578.75,62.86 M590.16,65.42 L591.50,64.78 L593.51,62.86 L593.51,76.30 M602.91,62.86 L610.29,62.86 L606.26,67.98 L608.27,67.98 L609.62,68.62 L610.29,69.26 L610.96,71.18 L610.96,72.46 L610.29,74.38 L608.95,75.66 L606.93,76.30 L604.92,76.30 L602.91,75.66 L602.24,75.02 L601.56,73.74 M623.71,64.78 L623.04,63.50 L621.02,62.86 L619.68,62.86 L617.67,63.50 L616.33,65.42 L615.66,68.62 L615.66,71.82 L616.33,74.38 L617.67,75.66 L619.68,76.30 L620.35,76.30 L622.37,75.66 L623.71,74.38 L624.38,72.46 L624.38,71.82 L623.71,69.90 L622.37,68.62 L620.35,67.98 L619.68,67.98 L617.67,68.62 L616.33,69.90 L615.66,71.82 M639.81,62.86 L639.81,76.30 M639.81,62.86 L645.85,62.86 L647.86,63.50 L648.53,64.14 L649.21,65.42 L649.21,66.70 L648.53,67.98 L647.86,68.62 L645.85,69.26 L639.81,69.26 M644.51,69.26 L649.21,76.30 M655.24,65.42 L656.59,64.78 L658.60,62.86 L658.60,76.30" fill="none" stroke="#000" stroke-width="1.70" stroke-linecap="round" stroke-linejoin="round"/>
<path d="M544.01,95.18 L542.67,93.90 L540.65,93.26 L537.97,93.26 L535.96,93.90 L534.61,95.18 L534.61,96.46 L535.28,97.74 L535.96,98.38 L537.30,99.02 L541.32,100.30 L542.67,100.94 L543.34,101.58 L544.01,102.86 L544.01,104.78 L542.67,106.06 L540.65,106.70 L537.97,106.70 L535.96,106.06 L534.61,104.78 M557.43,95.18 L556.09,93.90 L554.07,93.26 L551.39,93.26 L549.38,93.90 L548.03,95.18 L548.03,96.46 L548.70,97.74 L549.38,98.38 L550.72,99.02 L554.74,100.30 L556.09,100.94 L556.76,101.58 L557.43,102.86 L557.43,104.78 L556.09,106.06 L554.07,106.70 L551.39,106.70 L549.38,106.06 L548.03,104.78 M562.12,93.26 L562.12,106.70 M562.12,93.26 L568.16,93.26 L570.18,93.90 L570.85,94.54 L571.52,95.82 L571.52,97.74 L570.85,99.02 L570.18,99.66 L568.16,100.30 L562.12,100.30 M586.95,97.74 L586.95,106.70 M586.95,100.30 L588.96,98.38 L590.31,97.74 L592.32,97.74 L593.66,98.38 L594.33,100.30 L594.33,106.70 M594.33,100.30 L596.34,98.38 L597.69,97.74 L599.70,97.74 L601.04,98.38 L601.71,100.30 L601.71,106.70 M609.76,97.74 L608.42,98.38 L607.08,99.66 L606.41,101.58 L606.41,102.86 L607.08,104.78 L608.42,106.06 L609.76,106.70 L611.78,106.70 L613.12,106.06 L614.46,104.78 L615.13,102.86 L615.13,101.58 L614.46,99.66 L613.12,98.38 L611.78,97.74 L609.76,97.74 M627.21,93.26 L627.21,106.70 M627.21,99.66 L625.87,98.38 L624.53,97.74 L622.51,97.74 L621.17,98.38 L619.83,99.66 L619.16,101.58 L619.16,102.86 L619.83,104.78 L621.17,106.06 L622.51,106.70 L624.53,106.70 L625.87,106.06 L627.21,104.78 M631.91,101.58 L639.96,101.58 L639.96,100.30 L639.29,99.02 L638.62,98.38 L637.28,97.74 L635.26,97.74 L633.92,98.38 L632.58,99.66 L631.91,101.58 L631.91,102.86 L632.58,104.78 L633.92,106.06 L635.26,106.70 L637.28,106.70 L638.62,106.06 L639.96,104.78 M644.66,93.26 L644.66,106.70" fill="none" stroke="#0000ff" stroke-width="1.70" stroke-linecap="round" stroke-linejoin="round"/>
<path d="M491.2,99.6 H516.5" stroke="#0000ff" stroke-width="1.75"/>
<path d="M535.28,128.24 L535.28,141.68 M535.28,130.16 L536.63,128.88 L537.97,128.24 L539.98,128.24 L541.32,128.88 L542.67,130.16 L543.34,132.08 L543.34,133.36 L542.67,135.28 L541.32,136.56 L539.98,137.20 L537.97,137.20 L536.63,136.56 L535.28,135.28 M550.72,128.24 L549.38,128.88 L548.03,130.16 L547.36,132.08 L547.36,133.36 L548.03,135.28 L549.38,136.56 L550.72,137.20 L552.73,137.20 L554.07,136.56 L555.41,135.28 L556.09,133.36 L556.09,132.08 L555.41,130.16 L554.07,128.88 L552.73,128.24 L550.72,128.24 M560.11,128.24 L562.80,137.20 M565.48,128.24 L562.80,137.20 M565.48,128.24 L568.16,137.20 M570.85,128.24 L568.16,137.20 M574.87,132.08 L582.93,132.08 L582.93,130.80 L582.25,129.52 L581.58,128.88 L580.24,128.24 L578.23,128.24 L576.89,128.88 L575.54,130.16 L574.87,132.08 L574.87,133.36 L575.54,135.28 L576.89,136.56 L578.23,137.20 L580.24,137.20 L581.58,136.56 L582.93,135.28 M587.62,128.24 L587.62,137.20 M587.62,132.08 L588.29,130.16 L589.64,128.88 L590.98,128.24 L592.99,128.24 M596.35,131.44 L608.42,131.44 M613.79,123.76 L613.79,137.20 M626.54,128.24 L626.54,137.20 M626.54,130.16 L625.20,128.88 L623.86,128.24 L621.84,128.24 L620.50,128.88 L619.16,130.16 L618.49,132.08 L618.49,133.36 L619.16,135.28 L620.50,136.56 L621.84,137.20 L623.86,137.20 L625.20,136.56 L626.54,135.28 M631.24,128.24 L633.92,137.20 M636.61,128.24 L633.92,137.20 M636.61,128.24 L639.29,137.20 M641.97,128.24 L639.29,137.20 M661.43,123.76 L660.09,123.76 L658.75,124.40 L658.08,126.32 L658.08,137.20 M656.06,128.24 L660.76,128.24 M664.79,123.76 L665.46,124.40 L666.13,123.76 L665.46,123.12 L664.79,123.76 M665.46,128.24 L665.46,137.20 M671.50,123.76 L671.50,134.64 L672.17,136.56 L673.51,137.20 L674.85,137.20 M669.48,128.24 L674.18,128.24" fill="none" stroke="#0000ff" stroke-width="1.70" stroke-linecap="round" stroke-linejoin="round"/>
<path d="M490.8,130.1 H516.5" stroke="#0000ff" stroke-width="1.95" stroke-dasharray="1.95 4.7" stroke-dashoffset="-0.08"/>
<path d="M535.28,154.26 L535.28,167.70 M535.28,161.30 L537.30,159.38 L538.64,158.74 L540.65,158.74 L541.99,159.38 L542.67,161.30 L542.67,167.70 M550.72,158.74 L549.38,159.38 L548.03,160.66 L547.36,162.58 L547.36,163.86 L548.03,165.78 L549.38,167.06 L550.72,167.70 L552.73,167.70 L554.07,167.06 L555.41,165.78 L556.09,163.86 L556.09,162.58 L555.41,160.66 L554.07,159.38 L552.73,158.74 L550.72,158.74 M561.45,154.26 L561.45,165.14 L562.12,167.06 L563.47,167.70 L564.81,167.70 M559.44,158.74 L564.14,158.74 M586.95,154.26 L586.95,167.70 M586.95,160.66 L585.61,159.38 L584.27,158.74 L582.25,158.74 L580.91,159.38 L579.57,160.66 L578.90,162.58 L578.90,163.86 L579.57,165.78 L580.91,167.06 L582.25,167.70 L584.27,167.70 L585.61,167.06 L586.95,165.78 M592.32,158.74 L592.32,165.14 L592.99,167.06 L594.33,167.70 L596.35,167.70 L597.69,167.06 L599.70,165.14 M599.70,158.74 L599.70,167.70 M611.78,160.66 L611.11,159.38 L609.09,158.74 L607.08,158.74 L605.07,159.38 L604.40,160.66 L605.07,161.94 L606.41,162.58 L609.77,163.22 L611.11,163.86 L611.78,165.14 L611.78,165.78 L611.11,167.06 L609.09,167.70 L607.08,167.70 L605.07,167.06 L604.40,165.78 M617.15,154.26 L617.15,165.14 L617.82,167.06 L619.16,167.70 L620.50,167.70 M615.13,158.74 L619.83,158.74" fill="none" stroke="#ff0000" stroke-width="1.70" stroke-linecap="round" stroke-linejoin="round"/>
<path d="M491.2,160.6 H516.5" stroke="#ff0000" stroke-width="1.75"/>
<path d="M544.01,186.68 L542.67,185.40 L540.65,184.76 L537.97,184.76 L535.96,185.40 L534.61,186.68 L534.61,187.96 L535.28,189.24 L535.96,189.88 L537.30,190.52 L541.32,191.80 L542.67,192.44 L543.34,193.08 L544.01,194.36 L544.01,196.28 L542.67,197.56 L540.65,198.20 L537.97,198.20 L535.96,197.56 L534.61,196.28 M557.43,186.68 L556.09,185.40 L554.07,184.76 L551.39,184.76 L549.38,185.40 L548.03,186.68 L548.03,187.96 L548.70,189.24 L549.38,189.88 L550.72,190.52 L554.74,191.80 L556.09,192.44 L556.76,193.08 L557.43,194.36 L557.43,196.28 L556.09,197.56 L554.07,198.20 L551.39,198.20 L549.38,197.56 L548.03,196.28 M562.12,184.76 L562.12,198.20 M562.12,184.76 L568.16,184.76 L570.18,185.40 L570.85,186.04 L571.52,187.32 L571.52,189.24 L570.85,190.52 L570.18,191.16 L568.16,191.80 L562.12,191.80 M592.99,186.68 L592.99,198.20 M586.95,192.44 L599.03,192.44 M615.13,184.76 L615.13,198.20 M615.13,191.80 L617.15,189.88 L618.49,189.24 L620.50,189.24 L621.84,189.88 L622.51,191.80 L622.51,198.20 M630.57,189.24 L629.22,189.88 L627.88,191.16 L627.21,193.08 L627.21,194.36 L627.88,196.28 L629.22,197.56 L630.57,198.20 L632.58,198.20 L633.92,197.56 L635.26,196.28 L635.93,194.36 L635.93,193.08 L635.26,191.16 L633.92,189.88 L632.58,189.24 L630.57,189.24 M641.30,184.76 L641.30,195.64 L641.97,197.56 L643.32,198.20 L644.66,198.20 M639.29,189.24 L643.99,189.24 M666.80,184.76 L666.80,198.20 M666.80,191.16 L665.46,189.88 L664.12,189.24 L662.10,189.24 L660.76,189.88 L659.42,191.16 L658.75,193.08 L658.75,194.36 L659.42,196.28 L660.76,197.56 L662.10,198.20 L664.12,198.20 L665.46,197.56 L666.80,196.28 M672.17,189.24 L672.17,195.64 L672.84,197.56 L674.18,198.20 L676.19,198.20 L677.54,197.56 L679.55,195.64 M679.55,189.24 L679.55,198.20 M691.63,191.16 L690.96,189.88 L688.94,189.24 L686.93,189.24 L684.92,189.88 L684.25,191.16 L684.92,192.44 L686.26,193.08 L689.61,193.72 L690.96,194.36 L691.63,195.64 L691.63,196.28 L690.96,197.56 L688.94,198.20 L686.93,198.20 L684.92,197.56 L684.25,196.28 M697.00,184.76 L697.00,195.64 L697.67,197.56 L699.01,198.20 L700.35,198.20 M694.98,189.24 L699.68,189.24" fill="none" stroke="#ff0000" stroke-width="1.70" stroke-linecap="round" stroke-linejoin="round"/>
<path d="M491.2,191.1 H516.5" stroke="#ff0000" stroke-width="1.75" stroke-dasharray="10.4 8.4"/>
<path d="M535.28,215.26 L535.28,228.70 M540.65,215.26 L540.65,228.70 M565.48,215.26 L556.09,228.70 M556.09,215.26 L565.48,215.26 M556.09,228.70 L565.48,228.70 M569.51,219.74 L572.19,228.70 M574.87,219.74 L572.19,228.70 M574.87,219.74 L577.56,228.70 M580.24,219.74 L577.56,228.70 M601.71,215.26 L595.00,224.22 L605.07,224.22 M601.71,215.26 L601.71,228.70 M612.45,215.26 L610.44,215.90 L609.09,217.82 L608.42,221.02 L608.42,222.94 L609.09,226.14 L610.44,228.06 L612.45,228.70 L613.79,228.70 L615.80,228.06 L617.15,226.14 L617.82,222.94 L617.82,221.02 L617.15,217.82 L615.80,215.90 L613.79,215.26 L612.45,215.26 M633.25,215.26 L633.25,228.70 M633.25,215.26 L637.95,215.26 L639.96,215.90 L641.30,217.18 L641.97,218.46 L642.64,220.38 L642.64,223.58 L641.97,225.50 L641.30,226.78 L639.96,228.06 L637.95,228.70 L633.25,228.70 M647.34,215.26 L647.34,224.86 L648.01,226.78 L649.35,228.06 L651.37,228.70 L652.71,228.70 L654.72,228.06 L656.06,226.78 L656.74,224.86 L656.74,215.26 M670.83,217.18 L669.48,215.90 L667.47,215.26 L664.79,215.26 L662.77,215.90 L661.43,217.18 L661.43,218.46 L662.10,219.74 L662.77,220.38 L664.12,221.02 L668.14,222.30 L669.48,222.94 L670.16,223.58 L670.83,224.86 L670.83,226.78 L669.48,228.06 L667.47,228.70 L664.79,228.70 L662.77,228.06 L661.43,226.78 M678.21,215.26 L678.21,228.70 M673.51,215.26 L682.90,215.26 M684.25,215.26 L689.61,221.66 L689.61,228.70 M694.98,215.26 L689.61,221.66 M709.07,219.74 L709.07,228.70 M709.07,222.30 L711.09,220.38 L712.43,219.74 L714.44,219.74 L715.78,220.38 L716.45,222.30 L716.45,228.70 M716.45,222.30 L718.47,220.38 L719.81,219.74 L721.82,219.74 L723.16,220.38 L723.84,222.30 L723.84,228.70 M731.89,219.74 L730.54,220.38 L729.20,221.66 L728.53,223.58 L728.53,224.86 L729.20,226.78 L730.54,228.06 L731.89,228.70 L733.90,228.70 L735.24,228.06 L736.58,226.78 L737.25,224.86 L737.25,223.58 L736.58,221.66 L735.24,220.38 L733.90,219.74 L731.89,219.74 M749.33,215.26 L749.33,228.70 M749.33,221.66 L747.99,220.38 L746.65,219.74 L744.64,219.74 L743.29,220.38 L741.95,221.66 L741.28,223.58 L741.28,224.86 L741.95,226.78 L743.29,228.06 L744.64,228.70 L746.65,228.70 L747.99,228.06 L749.33,226.78 M754.03,223.58 L762.08,223.58 L762.08,222.30 L761.41,221.02 L760.74,220.38 L759.40,219.74 L757.39,219.74 L756.04,220.38 L754.70,221.66 L754.03,223.58 L754.03,224.86 L754.70,226.78 L756.04,228.06 L757.39,228.70 L759.40,228.70 L760.74,228.06 L762.08,226.78 M766.78,215.26 L766.78,228.70" fill="none" stroke="#ff0000" stroke-width="1.70" stroke-linecap="round" stroke-linejoin="round"/>
<path d="M490.8,221.6 H516.5" stroke="#ff0000" stroke-width="1.95" stroke-dasharray="1.95 4.7" stroke-dashoffset="-0.08"/>
</svg>
</body></html>
